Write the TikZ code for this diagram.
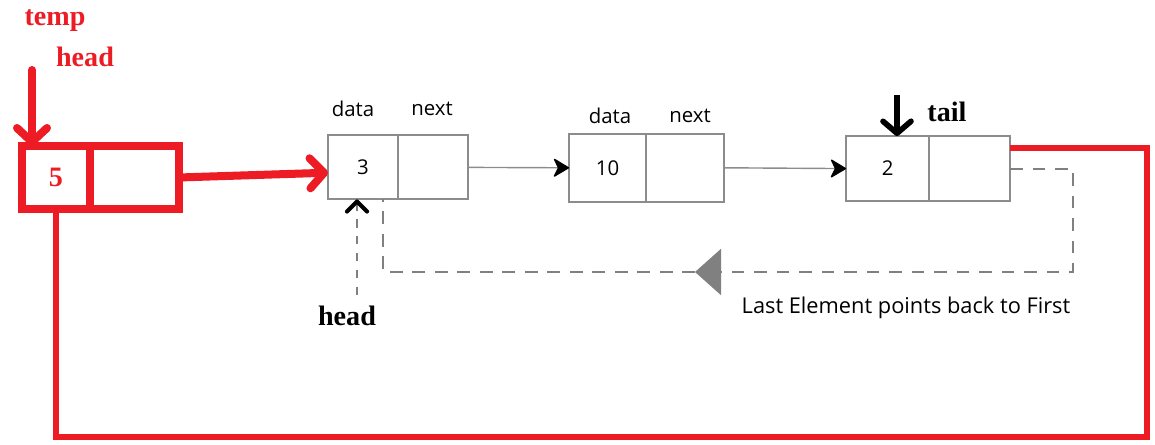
\documentclass[tikz,border=0pt]{standalone}
\usepackage{fontspec}
\setmainfont{Liberation Serif}
\newfontfamily\uifont{Open Sans}
\usetikzlibrary{arrows.meta,positioning}
\definecolor{paintred}{HTML}{ED1C24}
\definecolor{cellgray}{HTML}{8C8C8C}
\definecolor{dashgray}{HTML}{808080}
\tikzset{
  cell/.style={rectangle, draw=cellgray, line width=1.4pt, outer sep=0pt, inner sep=0pt,
               minimum height=1.6cm, font=\uifont\fontsize{14.5}{16}\selectfont},
  redcell/.style={rectangle, draw=paintred, line width=5.7pt, outer sep=0pt, inner sep=0pt,
               minimum height=1.575cm, text=paintred, font=\bfseries\fontsize{20}{22}\selectfont},
  fieldlbl/.style={font=\uifont\fontsize{14.5}{16}\selectfont},
  redlbl/.style={text=paintred, font=\bfseries\fontsize{20}{22}\selectfont},
  blklbl/.style={font=\bfseries\fontsize{20}{22}\selectfont},
  link/.style={draw=cellgray, line width=1pt,
               -{Stealth[black, length=0.42cm, width=0.5cm, inset=0.12cm, round]}},
  redlink/.style={draw=paintred, line width=5.7pt, line cap=round,
               -{Straight Barb[paintred, length=0.35cm, width=0.75cm, round]}},
  redloop/.style={draw=paintred, line width=4pt},
  backlink/.style={draw=dashgray, line width=1.4pt, dash pattern=on 9pt off 7pt},
  ptr/.style={draw=black, line width=4pt,
               -{Straight Barb[black, length=0.3cm, width=0.7cm, round]}}
}

\begin{document}
\begin{tikzpicture}
\useasboundingbox (0,0) rectangle (28.875,11.125);

%% temp / head (red box)
\node[redlbl] (templbl) at (1.375, 10.60) {temp};
\node[redlbl] (redhead) at (2.125,  9.70) {head};
\node[redcell, minimum width=1.7cm]   (hd) at (1.4, 6.6875) {5};
\node[redcell, minimum width=2.225cm, right=0pt of hd] (hn) {};
\coordinate (tmpptr) at (0.8, 9.375);

%% list nodes
\node[cell, minimum width=1.75cm] (n1d) at (9.075, 6.94) {3};
\node[cell, minimum width=1.75cm, right=0pt of n1d] (n1n) {};
\node[fieldlbl] (n1dl) at (8.825, 8.40) {data};
\node[fieldlbl] (n1nl) at (10.80, 8.40) {next};

\node[cell, minimum width=1.925cm, minimum height=1.7cm] (n2d) at (15.19, 6.93) {10};
\node[cell, minimum width=1.95cm, minimum height=1.7cm, right=0pt of n2d] (n2n) {};
\node[fieldlbl] (n2dl) at (15.25, 8.225) {data};
\node[fieldlbl] (n2nl) at (17.25, 8.225) {next};

\node[cell, minimum width=2.075cm, minimum height=1.625cm] (n3d) at (22.19, 6.91) {2};
\node[cell, minimum width=2.025cm, minimum height=1.625cm, right=0pt of n3d] (n3n) {};

%% pointers
\node[blklbl] (taillbl) at (23.675, 8.325) {tail};
\coordinate (tailptr) at (22.425, 8.75);
\node[blklbl] (headlbl) at (8.675, 3.225) {head};
\coordinate (headptr) at (8.925, 3.75);
\node[fieldlbl, font=\uifont\fontsize{15.5}{17}\selectfont] (backnote) at (22.65, 3.425)
  {Last Element points back to First};

%% corners
\coordinate (loopse) at (28.675, 0.2);
\coordinate (backse) at (26.825, 4.325);
\coordinate (backtri) at (17.375, 4.325);
\coordinate (backsw) at (9.575, 4.325);

%% Flow
\draw[redlink] (tmpptr) -- (tmpptr |- hd.north);
\draw[redlink] (hn.east) -- ([yshift=0.12cm]hn.east -| n1d.west);
\draw[link] (n1n.east) -- (n2d.west);
\draw[link] (n2n.east) -- (n3d.west);
\draw[ptr] (tailptr) -- (tailptr |- n3d.north);
% red loop back to temp
\draw[redloop] ([yshift=-0.3cm]n3n.north east) -| (loopse) -| (hd.south);
% dashed back link
\draw[backlink, -{Triangle[dashgray, length=0.65cm, width=1.15cm]}] (n3n.east) -| (backse) -- (backtri);
\draw[backlink] (backtri) -- (backsw) -- (backsw |- n1d.south);
% head pointer
\draw[backlink, dash pattern=on 6pt off 6pt,
      -{Straight Barb[black, line width=3pt, length=0.25cm, width=0.5cm, round]}]
  (headptr) -- (headptr |- n1d.south);

\end{tikzpicture}
\end{document}
